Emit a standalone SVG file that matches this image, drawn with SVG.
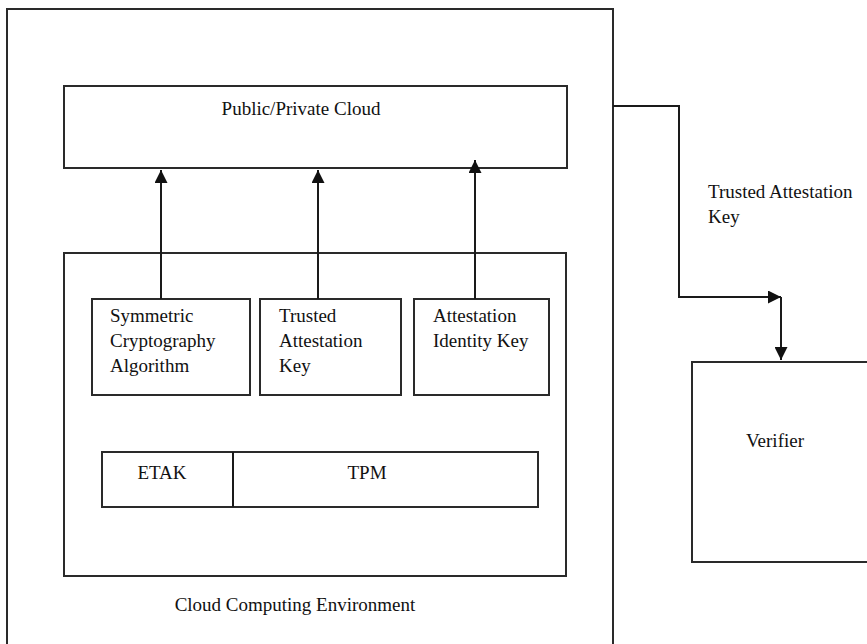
<svg xmlns="http://www.w3.org/2000/svg" width="867" height="644" viewBox="0 0 867 644">
<defs>
<style>
.box{fill:#fff;stroke:#2a2a2a;stroke-width:2}
.line{fill:none;stroke:#1a1a1a;stroke-width:2}
text{font-family:"Liberation Serif","Times New Roman",serif;font-size:19px;fill:#111}
.c{text-anchor:middle}
</style>
<marker id="ah" viewBox="0 0 12 12" refX="12" refY="6" markerWidth="13" markerHeight="13" markerUnits="userSpaceOnUse" orient="auto">
<path d="M0,0 L12,6 L0,12 z" fill="#111"/>
</marker>
</defs>
<rect width="867" height="644" fill="#fff"/>
<g id="cloud-env">
<rect class="box" x="7" y="9" width="606" height="650"/>
<text class="c" x="295" y="611">Cloud Computing Environment</text>
</g>
<g id="public-private-cloud">
<rect class="box" x="64" y="86" width="503" height="82"/>
<text class="c" x="301" y="115">Public/Private Cloud</text>
</g>
<g id="inner-env">
<rect class="box" x="64" y="253" width="502" height="323"/>
</g>
<g id="symmetric">
<rect class="box" x="92" y="299" width="158" height="96"/>
<text x="110" y="322">Symmetric</text>
<text x="110" y="347">Cryptography</text>
<text x="110" y="372">Algorithm</text>
</g>
<g id="trusted-key">
<rect class="box" x="260" y="299" width="141" height="96"/>
<text x="279" y="322">Trusted</text>
<text x="279" y="347">Attestation</text>
<text x="279" y="372">Key</text>
</g>
<g id="aik">
<rect class="box" x="414" y="299" width="135" height="96"/>
<text x="433" y="322">Attestation</text>
<text x="433" y="347">Identity Key</text>
</g>
<g id="tpm">
<rect class="box" x="102" y="452" width="436" height="55"/>
<line class="line" x1="233" y1="452" x2="233" y2="507" stroke="#555"/>
<text class="c" x="162" y="479">ETAK</text>
<text class="c" x="367" y="479">TPM</text>
</g>
<g id="verifier">
<rect class="box" x="692" y="362" width="190" height="200"/>
<text class="c" x="775" y="447">Verifier</text>
</g>
<g id="connectors">
<line class="line" x1="161" y1="299" x2="161" y2="170" marker-end="url(#ah)"/>
<line class="line" x1="318" y1="299" x2="318" y2="170" marker-end="url(#ah)"/>
<line class="line" x1="475" y1="299" x2="475" y2="160" marker-end="url(#ah)"/>
<polyline class="line" points="613,106 679,106 679,297 781,297" marker-end="url(#ah)"/>
<line class="line" x1="781" y1="297" x2="781" y2="360" marker-end="url(#ah)"/>
<text x="708" y="198">Trusted Attestation</text>
<text x="708" y="223">Key</text>
</g>
</svg>
